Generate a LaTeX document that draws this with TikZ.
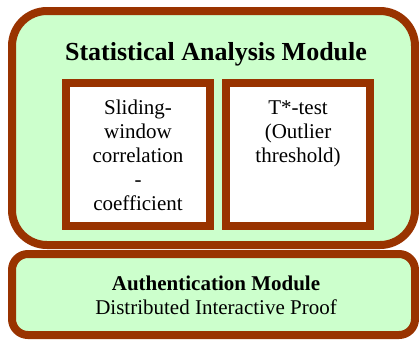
\documentclass[tikz,border=0pt]{standalone}
\usepackage{fontspec}
\setmainfont{Liberation Serif}
\definecolor{brd}{HTML}{993300}
\definecolor{gr}{HTML}{CCFFCC}
\begin{document}
\begin{tikzpicture}[x=1pt,y=-1pt,
  modbox/.style={draw=brd, line width=8pt, fill=gr},
  innerbox/.style={draw=brd, line width=8pt, fill=white},
  txt/.style={inner sep=0pt, anchor=base, font=\fontsize{21}{24}\selectfont},
  btxt/.style={inner sep=0pt, anchor=base, font=\fontsize{21}{24}\selectfont\bfseries},
  ttl/.style={inner sep=0pt, anchor=base, font=\fontsize{26}{30}\selectfont\bfseries}]
\useasboundingbox (0,0) rectangle (419,340);
\draw[modbox, rounded corners=35pt] (12,11) rectangle (415,245);
\draw[modbox, rounded corners=16pt] (12,254) rectangle (415,335);
\node[innerbox, minimum width=144pt, minimum height=143pt, inner sep=0pt] (sw) at (138,154.5) {};
\node[innerbox, minimum width=144pt, minimum height=143pt, inner sep=0pt] (tt) at (298,154.5) {};
\node[ttl] (title) at (216,60) {Statistical Analysis Module};
\node[txt] (s1) at (138,114) {Sliding-};
\node[txt] (s2) at (138,138) {window};
\node[txt] (s3) at (138,162) {correlation};
\node[txt] (s4) at (138,186) {-};
\node[txt] (s5) at (138,210) {coefficient};
\node[txt] (t1) at (298,114) {T*-test};
\node[txt] (t2) at (298,138) {(Outlier};
\node[txt] (t3) at (298,162) {threshold)};
\node[btxt] (a1) at (216,290) {Authentication Module};
\node[txt] (a2) at (216,314) {Distributed Interactive Proof};
\end{tikzpicture}
\end{document}
